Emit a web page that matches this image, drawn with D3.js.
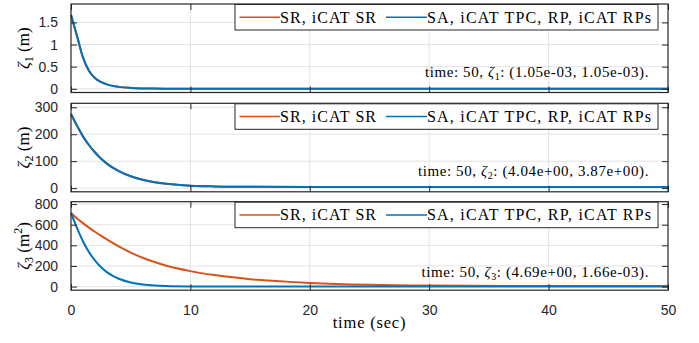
<!DOCTYPE html>
<html>
<head>
<meta charset="utf-8">
<style>
  body { margin: 0; background: #fff; }
  .tick text { font: 14px "Liberation Sans", Arial, sans-serif; fill: #262626; }
  .serif { font-family: "Liberation Serif", "Times New Roman", serif; fill: #000; }
</style>
<script src="https://cdn.jsdelivr.net/npm/d3@7"></script>
</head>
<body>
<svg width="699" height="343"></svg>
<script>
// sample times (sec)
var timeSec = [0, 0.5, 1, 1.5, 2, 2.5, 3, 4, 5, 6, 7, 8, 10, 12, 15, 20, 25, 30, 40, 50];

// zeta_1 (m) - both curves overlap
var zeta1SR = [1.67, 1.2, 0.71, 0.41, 0.245, 0.155, 0.10, 0.043, 0.019, 0.0085, 0.0042, 0.0025, 0.0013, 0.0011, 0.00106, 0.00105, 0.00105, 0.00105, 0.00105, 0.00105];
var zeta1SA = [1.67, 1.2, 0.71, 0.41, 0.245, 0.155, 0.10, 0.043, 0.019, 0.0085, 0.0042, 0.0025, 0.0013, 0.0011, 0.00106, 0.00105, 0.00105, 0.00105, 0.00105, 0.00105];

// zeta_2 (m)
var zeta2SR = [275, 232, 192, 160, 133, 110, 91, 63, 44, 31, 22, 16, 9, 6.3, 4.9, 4.3, 4.15, 4.08, 4.05, 4.04];
var zeta2SA = [275, 232, 192, 160, 133, 110, 91, 63, 44, 31, 22, 16, 9, 6.2, 4.7, 4.1, 3.98, 3.93, 3.89, 3.87];

// zeta_3 (m^2)
var zeta3SR = [713, 660, 615, 572, 532, 494, 458, 390, 330, 280, 238, 202, 150, 112, 72, 36, 17, 9.5, 5.5, 4.69];
var zeta3SA = [713, 570, 440, 335, 255, 190, 140, 76, 40, 21, 11, 5.8, 1.6, 0.45, 0.08, 0.01, 0.004, 0.002, 0.0017, 0.00166];

var xTicks = [0, 10, 20, 30, 40, 50];
var yTicks = [[0, 0.5, 1, 1.5], [0, 100, 200, 300], [0, 200, 400, 600, 800]];
var yDomains = [[-0.084, 1.916], [-13.7, 314.8], [-35, 823]];
var legendNames = ["SR, iCAT SR", "SA, iCAT TPC, RP, iCAT RPs"];
var annoText = [["1.05e-03", "1.05e-03"], ["4.04e+00", "3.87e+00"], ["4.69e+00", "1.66e-03"]];
var units = ["m", "m", "m2"];

var colors = ["#D95319", "#0072BD"];
var seriesData = [[zeta1SR, zeta1SA], [zeta2SR, zeta2SA], [zeta3SR, zeta3SA]];

var svg = d3.select("svg");
var left = 71, right = 668;
var tops = [4, 103.3, 201.7], ph = 88.5;

var x = d3.scaleLinear().domain([0, 50]).range([left, right]);

seriesData.forEach(function (series, p) {
  var top = tops[p], bottom = top + ph;
  var y = d3.scaleLinear().domain(yDomains[p]).range([bottom, top]);
  var g = svg.append("g");

  // grid
  g.selectAll(".gx").data(xTicks.slice(1, -1)).enter().append("line")
    .attr("x1", function (d) { return x(d); }).attr("x2", function (d) { return x(d); })
    .attr("y1", top).attr("y2", bottom)
    .attr("stroke", "#e3e3e3").attr("stroke-width", 1);
  g.selectAll(".gy").data(yTicks[p]).enter().append("line")
    .attr("x1", left).attr("x2", right)
    .attr("y1", function (d) { return y(d); }).attr("y2", function (d) { return y(d); })
    .attr("stroke", "#e3e3e3").attr("stroke-width", 1);

  // curves, SR first then SA on top
  var line = d3.line()
    .x(function (d, i) { return x(timeSec[i]); })
    .y(function (d) { return y(d); })
    .curve(d3.curveMonotoneX);
  series.forEach(function (vals, s) {
    g.append("path").datum(vals)
      .attr("d", line)
      .attr("fill", "none")
      .attr("stroke", colors[s])
      .attr("stroke-width", 2);
  });

  // axes with inward ticks
  var yAxis = d3.axisLeft(y).tickValues(yTicks[p]).tickSizeInner(-6).tickSizeOuter(0).tickPadding(13)
    .tickFormat(function (d) { return String(d); });
  g.append("g").attr("transform", "translate(" + left + ",0)").call(yAxis)
    .call(function (a) { a.select(".domain").remove(); a.selectAll("line").attr("stroke", "#262626"); });
  g.append("g").attr("transform", "translate(" + right + ",0)")
    .call(d3.axisRight(y).tickValues(yTicks[p]).tickSizeInner(-6).tickSizeOuter(0).tickFormat(""))
    .call(function (a) { a.select(".domain").remove(); a.selectAll("line").attr("stroke", "#262626"); });
  g.append("g").attr("transform", "translate(0," + top + ")")
    .call(d3.axisTop(x).tickValues(xTicks).tickSizeInner(-6).tickSizeOuter(0).tickFormat(""))
    .call(function (a) { a.select(".domain").remove(); a.selectAll("line").attr("stroke", "#262626"); });
  var xb = g.append("g").attr("transform", "translate(0," + bottom + ")")
    .call(d3.axisBottom(x).tickValues(xTicks).tickSizeInner(-6).tickSizeOuter(0).tickPadding(15)
      .tickFormat(p === 2 ? d3.format("d") : ""));
  xb.select(".domain").remove();
  xb.selectAll("line").attr("stroke", "#262626");

  g.append("rect").attr("x", left).attr("y", top).attr("width", right - left).attr("height", ph)
    .attr("fill", "none").attr("stroke", "#262626").attr("stroke-width", 1.2);

  // legend
  var lg = g.append("g").attr("transform", "translate(235," + (top + 0.5) + ")");
  lg.append("rect").attr("width", 423).attr("height", 25.5)
    .attr("fill", "#fff").attr("stroke", "#262626").attr("stroke-width", 1);
  var itemX = [[4.5, 45, 96], [151, 192, 224]];
  legendNames.forEach(function (name, s) {
    lg.append("line").attr("x1", itemX[s][0]).attr("x2", itemX[s][1])
      .attr("y1", 12.75).attr("y2", 12.75)
      .attr("stroke", colors[s]).attr("stroke-width", 1.5);
    lg.append("text").attr("class", "serif")
      .attr("x", itemX[s][1]).attr("y", 18)
      .attr("font-size", 16)
      .attr("textLength", itemX[s][2]).attr("lengthAdjust", "spacing")
      .text(name);
  });

  // end-value annotation
  var baseY = [76.5, 176, 276.5][p];
  var t = g.append("text").attr("class", "serif")
    .attr("x", 649).attr("y", baseY).attr("text-anchor", "end").attr("font-size", 15)
    .attr("letter-spacing", 0.6);
  t.append("tspan").text("time: 50, ");
  t.append("tspan").attr("font-style", "italic").text("ζ");
  t.append("tspan").attr("font-size", 10).attr("dy", 3).text(String(p + 1));
  t.append("tspan").attr("dy", -3).text(": (" + annoText[p][0] + ", " + annoText[p][1] + ").");

  // y label
  var yl = g.append("text").attr("class", "serif")
    .attr("transform", "translate(29," + (top + ph / 2) + ") rotate(-90)")
    .attr("text-anchor", "middle").attr("font-size", 17);
  yl.append("tspan").attr("font-style", "italic").text("ζ");
  yl.append("tspan").attr("font-size", 12).attr("dy", 4).text(String(p + 1));
  if (units[p] === "m2") {
    yl.append("tspan").attr("dy", -4).text(" (m");
    yl.append("tspan").attr("font-size", 12).attr("dy", -7).text("2");
    yl.append("tspan").attr("dy", 7).text(")");
  } else {
    yl.append("tspan").attr("dy", -4).text(" (" + units[p] + ")");
  }
});

// x label
svg.append("text").attr("class", "serif")
  .attr("x", (left + right) / 2).attr("y", 328)
  .attr("text-anchor", "middle").attr("font-size", 16.5)
  .attr("letter-spacing", 0.8)
  .text("time (sec)");
</script>
</body>
</html>
